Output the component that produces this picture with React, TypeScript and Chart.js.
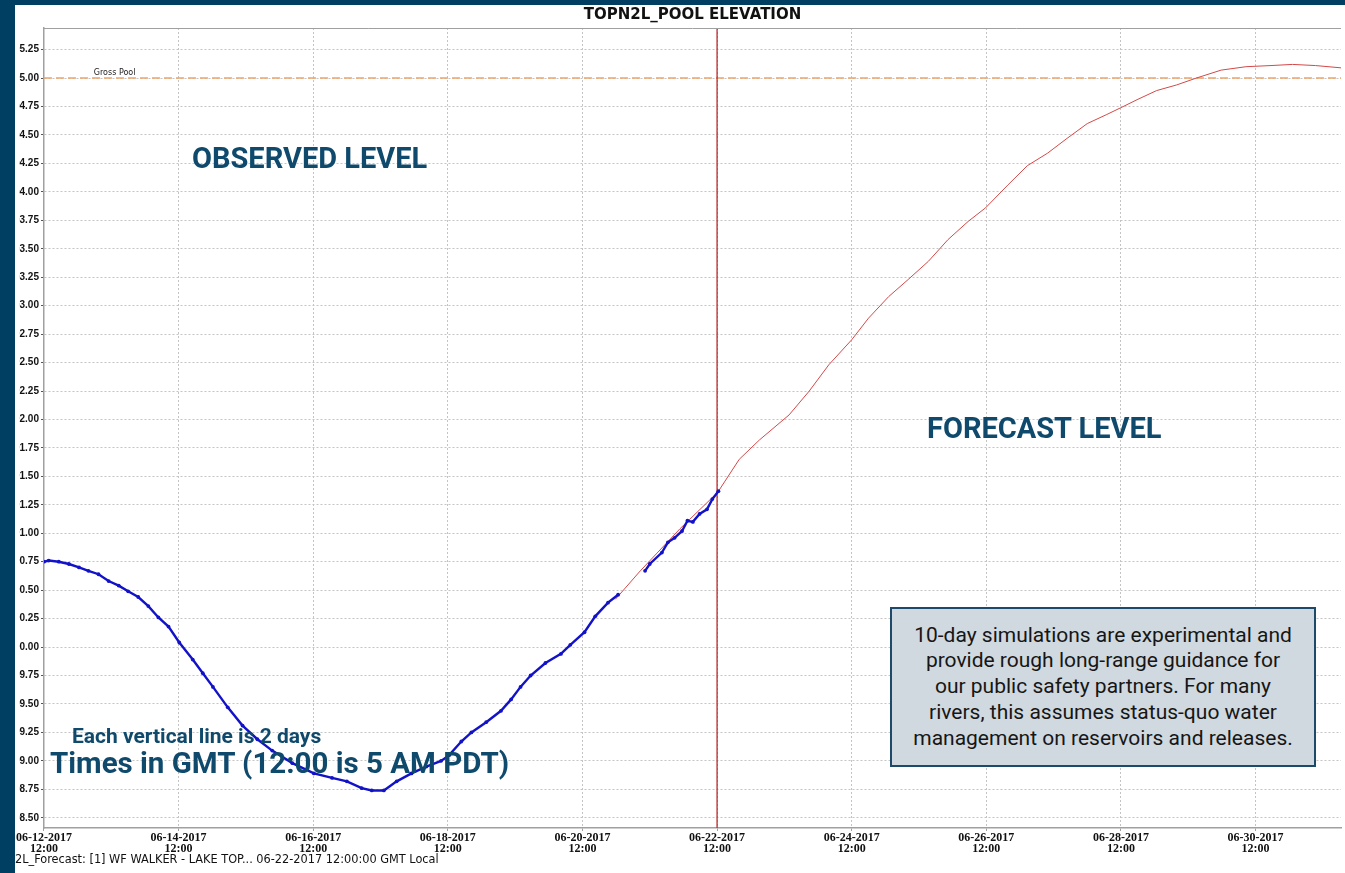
import React, { useEffect, useRef } from "react";
import { Chart, registerables } from "chart.js";

Chart.register(...registerables);

// ---- data (days since 06-12-2017 12:00 GMT, pool elevation in ft) ----
const OBS_DAYS = [
  0.0, 0.07, 0.22, 0.37, 0.52, 0.66, 0.81, 0.96, 1.11, 1.25, 1.4, 1.55, 1.7, 1.85,
  2.01, 2.21, 2.36, 2.51, 2.73, 2.95, 3.17, 3.39, 3.69, 4.01, 4.28, 4.5, 4.72, 4.87,
  5.05, 5.24, 5.46, 5.68, 5.9, 6.02, 6.2, 6.35, 6.57, 6.79, 6.94, 7.08, 7.23, 7.45,
  7.68, 7.82, 8.03, 8.19, 8.38, 8.53, 8.7, 8.93, 9.0, 9.18, 9.27, 9.37, 9.48, 9.56,
  9.64, 9.74, 9.85, 9.93, 10.02,
];
const OBS_LEVELS = [
  5000.75, 5000.76, 5000.75, 5000.73, 5000.7, 5000.67, 5000.64, 5000.58, 5000.54,
  5000.49, 5000.44, 5000.36, 5000.26, 5000.18, 5000.04, 4999.89, 4999.77, 4999.65,
  4999.47, 4999.31, 4999.19, 4999.09, 4998.98, 4998.89, 4998.85, 4998.82, 4998.76,
  4998.74, 4998.74, 4998.82, 4998.89, 4998.95, 4999.0, 4999.05, 4999.17, 4999.25,
  4999.34, 4999.44, 4999.54, 4999.65, 4999.75, 4999.86, 4999.94, 5000.02, 5000.13,
  5000.27, 5000.39, 5000.46, null, 5000.67, 5000.73, 5000.83, 5000.92, 5000.96,
  5001.02, 5001.11, 5001.1, 5001.17, 5001.21, 5001.3, 5001.37,
];
const FC_DAYS = [
  8.49, 8.86, 9.45, 10.01, 10.33, 10.63, 11.07, 11.37, 11.66, 12.0, 12.25, 12.55,
  12.84, 13.14, 13.43, 13.73, 13.99, 14.32, 14.61, 14.91, 15.2, 15.5, 15.79, 16.0,
  16.24, 16.53, 16.83, 17.12, 17.49, 17.86, 18.23, 18.55, 18.89, 19.27,
];
const FC_LEVELS = [
  5000.42, 5000.67, 5001.04, 5001.36, 5001.65, 5001.82, 5002.04, 5002.25, 5002.48,
  5002.7, 5002.89, 5003.08, 5003.23, 5003.39, 5003.58, 5003.74, 5003.86, 5004.06,
  5004.23, 5004.34, 5004.47, 5004.6, 5004.68, 5004.74, 5004.81, 5004.89, 5004.94,
  5005.0, 5005.07, 5005.1, 5005.11, 5005.12, 5005.11, 5005.09,
];
const X_TICK_DAYS = [0, 2, 4, 6, 8, 10, 12, 14, 16, 18];
const X_TICK_LABELS = [
  "06-12-2017", "06-14-2017", "06-16-2017", "06-18-2017", "06-20-2017",
  "06-22-2017", "06-24-2017", "06-26-2017", "06-28-2017", "06-30-2017",
];
const X_TICK_TIME = "12:00";
const GROSS_POOL = 5005.0;
const GROSS_LABEL = "Gross Pool";
const GROSS_LABEL_DAY = 0.74;
const FORECAST_START_DAY = 10;
const X_MIN = 0;
const X_MAX = 19.27;
const Y_MIN = 4998.41;
const Y_MAX = 5005.44;
const Y_STEP = 0.25;

const TITLE = "TOPN2L_POOL ELEVATION";
const FOOTER = "2L_Forecast: [1] WF WALKER - LAKE TOP... 06-22-2017 12:00:00 GMT Local";
const NOTE_LINES = [
  "10-day simulations are experimental and",
  "provide rough long-range guidance for",
  "our public safety partners. For many",
  "rivers, this assumes status-quo water",
  "management on reservoirs and releases.",
];

const FRAME = "#003f62";
const NAVY_TEXT = "#0f4a6d";
const GRID = "#c4c4c4";
const AXIS = "#a0a0a0";

const framePlugin = {
  id: "framePlugin",
  afterDraw(chart: any) {
    const { ctx, chartArea, scales } = chart;
    ctx.save();
    ctx.strokeStyle = AXIS;
    ctx.lineWidth = 1;
    ctx.beginPath();
    ctx.moveTo(chartArea.left, chartArea.top + 0.5);
    ctx.lineTo(chartArea.right, chartArea.top + 0.5);
    ctx.stroke();
    ctx.font = "8px 'DejaVu Sans'";
    ctx.fillStyle = "#222";
    ctx.textBaseline = "alphabetic";
    ctx.fillText(
      GROSS_LABEL,
      scales.x.getPixelForValue(GROSS_LABEL_DAY),
      scales.y.getPixelForValue(GROSS_POOL) - 3
    );
    ctx.restore();
  },
};

export default function App() {
  const ref = useRef<HTMLCanvasElement | null>(null);

  useEffect(() => {
    if (!ref.current) return;
    const obs = OBS_DAYS.map((d, i) => ({ x: d, y: OBS_LEVELS[i] }));
    const fc = FC_DAYS.map((d, i) => ({ x: d, y: FC_LEVELS[i] }));
    const chart = new Chart(ref.current, {
      type: "line",
      data: {
        datasets: [
          {
            label: "Observed",
            data: obs as any,
            borderColor: "#1212c8",
            backgroundColor: "#1212c8",
            borderWidth: 2.4,
            pointRadius: 1.9,
            pointBorderWidth: 0,
            pointBackgroundColor: "#1212c8",
            spanGaps: false,
            order: 0,
          },
          {
            label: "Forecast",
            data: fc as any,
            borderColor: "#d44848",
            borderWidth: 1,
            pointRadius: 0,
            order: 1,
          },
          {
            label: "Forecast start",
            data: [
              { x: FORECAST_START_DAY, y: Y_MIN },
              { x: FORECAST_START_DAY, y: Y_MAX },
            ] as any,
            borderColor: "#b51a1a",
            borderWidth: 1.2,
            pointRadius: 0,
            order: 2,
          },
          {
            label: "Gross Pool",
            data: [
              { x: X_MIN, y: GROSS_POOL },
              { x: X_MAX, y: GROSS_POOL },
            ] as any,
            borderColor: "#f0a468",
            borderWidth: 1.5,
            borderDash: [8, 4],
            pointRadius: 0,
            order: 3,
          },
        ],
      },
      options: {
        animation: false,
        responsive: false,
        maintainAspectRatio: false,
        layout: { padding: 0 },
        plugins: {
          legend: { display: false },
          tooltip: { enabled: false },
          title: {
            display: true,
            text: TITLE,
            fullSize: false,
            color: "#111",
            font: { family: "'DejaVu Sans'", size: 15, weight: "bold", lineHeight: 1 },
            padding: { top: 3, bottom: 5 },
          },
        },
        scales: {
          x: {
            type: "linear",
            min: X_MIN,
            max: X_MAX,
            afterBuildTicks: (s: any) => {
              s.ticks = X_TICK_DAYS.map((v) => ({ value: v }));
            },
            afterFit: (s: any) => {
              s.height = 45;
            },
            grid: { color: GRID, lineWidth: 1, tickLength: 3, tickColor: AXIS },
            border: { color: AXIS, width: 1.5, dash: [2, 2] },
            ticks: {
              autoSkip: false,
              maxRotation: 0,
              padding: 1,
              color: "#111",
              font: { family: "'Liberation Serif'", size: 12, weight: "bold", lineHeight: 0.95 },
              callback: (_v: any, i: number) => [X_TICK_LABELS[i], X_TICK_TIME],
            },
          },
          y: {
            type: "linear",
            min: Y_MIN,
            max: Y_MAX,
            afterFit: (s: any) => {
              s.width = 25;
            },
            grid: { color: GRID, lineWidth: 1, tickLength: 3, tickColor: "#555" },
            border: { color: AXIS, width: 1.5, dash: [2, 2] },
            ticks: {
              stepSize: Y_STEP,
              includeBounds: false,
              maxTicksLimit: 100,
              autoSkip: false,
              padding: 2,
              color: "#111",
              font: { family: "'Liberation Sans'", size: 10, weight: "bold" },
              callback: (v: any) => Number(v).toFixed(2),
            },
          },
        },
      },
      plugins: [framePlugin],
    });
    return () => chart.destroy();
  }, []);

  const roboto = "Roboto, 'Noto Sans', sans-serif";

  return (
    <div
      style={{
        position: "fixed",
        left: 0,
        top: 0,
        width: 1345,
        height: 873,
        background: FRAME,
        overflow: "hidden",
      }}
    >
      <div
        style={{
          position: "absolute",
          left: 15,
          top: 5,
          width: 1330,
          height: 868,
          background: "#fff",
          overflow: "hidden",
        }}
      >
        <canvas
          ref={ref}
          width={1330}
          height={868}
          style={{ position: "absolute", left: 0, top: 0, width: 1330, height: 868 }}
        />
        <div
          style={{
            position: "absolute",
            left: 177,
            top: 139,
            font: `bold 29px/1 ${roboto}`,
            color: NAVY_TEXT,
            whiteSpace: "nowrap",
          }}
        >
          OBSERVED LEVEL
        </div>
        <div
          style={{
            position: "absolute",
            left: 912,
            top: 409,
            font: `bold 29px/1 ${roboto}`,
            color: NAVY_TEXT,
            whiteSpace: "nowrap",
          }}
        >
          FORECAST LEVEL
        </div>
        <div
          style={{
            position: "absolute",
            left: 57,
            top: 721,
            font: `bold 21px/1 ${roboto}`,
            color: NAVY_TEXT,
            whiteSpace: "nowrap",
          }}
        >
          Each vertical line is 2 days
        </div>
        <div
          style={{
            position: "absolute",
            left: 35,
            top: 744,
            font: `bold 29.5px/1 ${roboto}`,
            color: NAVY_TEXT,
            whiteSpace: "nowrap",
          }}
        >
          Times in GMT (12:00 is 5 AM PDT)
        </div>
        <div
          style={{
            position: "absolute",
            left: 875,
            top: 602,
            width: 426,
            height: 160,
            boxSizing: "border-box",
            background: "#d0d9df",
            border: "2px solid #1d4a6b",
            display: "flex",
            flexDirection: "column",
            justifyContent: "center",
            alignItems: "center",
            font: `21px/25.7px ${roboto}`,
            color: "#161616",
            textAlign: "center",
          }}
        >
          {NOTE_LINES.map((l, i) => (
            <div key={i} style={{ whiteSpace: "nowrap" }}>
              {l}
            </div>
          ))}
        </div>
        <div
          style={{
            position: "absolute",
            left: 0,
            top: 848,
            font: "12.6px/1 'DejaVu Sans Condensed', 'DejaVu Sans', sans-serif",
            color: "#111",
            whiteSpace: "nowrap",
          }}
        >
          {FOOTER}
        </div>
      </div>
    </div>
  );
}
